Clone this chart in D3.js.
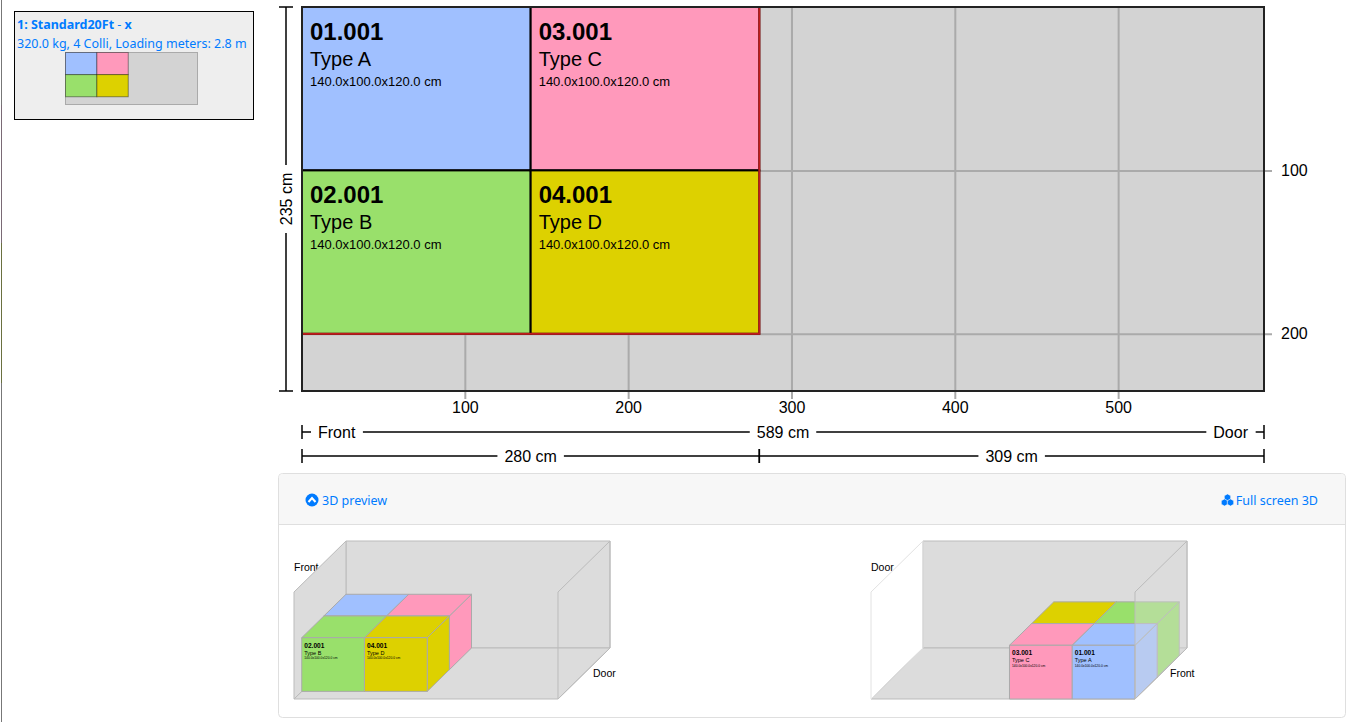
<!DOCTYPE html>
<html>
<head>
<meta charset="utf-8">
<script src="https://cdn.jsdelivr.net/npm/d3@7"></script>
<style>
  html, body { margin: 0; padding: 0; background: #fff; overflow: hidden; }
  svg { display: block; }
  text { font-family: "Liberation Sans", Arial, sans-serif; fill: #000; }
  .ui { font-family: "Noto Sans", sans-serif; fill: #007bff; font-size: 12.5px; }
  .axis .domain { display: none; }
  .axis line { stroke: #aaa; stroke-width: 2; }
  .axis text { font-size: 16px; fill: #000; font-family: "Liberation Sans", Arial, sans-serif; }
</style>
</head>
<body>
<svg id="chart" width="1367" height="722"></svg>
<script>
// values in cm
const containerLength = 589;
const containerWidth = 235;
const containerHeight = 239;
const loadedLength = 280;
const loadedWidth = 200;
const xTicks = [100, 200, 300, 400, 500];
const yTicks = [100, 200];
const boxIds = ["01.001", "02.001", "03.001", "04.001"];
const boxTypes = ["Type A", "Type B", "Type C", "Type D"];
const boxDims = ["140.0x100.0x120.0 cm", "140.0x100.0x120.0 cm", "140.0x100.0x120.0 cm", "140.0x100.0x120.0 cm"];
const boxColors = ["#a0c0ff", "#99e06b", "#ff99bb", "#ddd100"];
const boxX = [0, 0, 140, 140];
const boxY = [0, 100, 0, 100];
const boxLength = 140;
const boxWidth = 100;
const boxHeight = 120;

const boxes = boxIds.map((id, i) => ({
  id, type: boxTypes[i], dims: boxDims[i], color: boxColors[i], x: boxX[i], y: boxY[i],
}));

const svg = d3.select("#chart");
const x = d3.scaleLinear().domain([0, containerLength]).range([302, 1264]);
const y = d3.scaleLinear().domain([0, containerWidth]).range([7, 391]);

// thin line at the left edge of the page
[[0, 105, "#777"], [105, 243, "#7a6a75"], [243, 383, "#6a7040"], [383, 722, "#777"]].forEach((s) => {
  svg.append("line").attr("x1", 1.5).attr("x2", 1.5).attr("y1", s[0]).attr("y2", s[1])
    .attr("stroke", s[2]).attr("stroke-width", 1);
});

// ---- top view ----
svg.append("rect")
  .attr("x", x(0)).attr("y", y(0))
  .attr("width", x(containerLength) - x(0)).attr("height", y(containerWidth) - y(0))
  .attr("fill", "#d3d3d3");

svg.append("g").attr("class", "axis")
  .attr("transform", `translate(-0.5,${y(0)})`)
  .call(d3.axisBottom(x).tickValues(xTicks).tickSize(392).tickPadding(3));

svg.append("g").attr("class", "axis")
  .attr("transform", `translate(${x(0)},0)`)
  .call(d3.axisRight(y).tickValues(yTicks).tickSize(970).tickPadding(9));

const boxG = svg.append("g").selectAll("g").data(boxes).join("g")
  .attr("transform", (d) => `translate(${x(d.x)},${y(d.y)})`);

boxG.append("rect")
  .attr("width", x(boxLength) - x(0)).attr("height", y(boxWidth) - y(0))
  .attr("fill", (d) => d.color).attr("stroke", "#000").attr("stroke-width", 2);
boxG.append("text").attr("x", 8).attr("y", 33)
  .attr("font-size", 24).attr("font-weight", "bold").text((d) => d.id);
boxG.append("text").attr("x", 8).attr("y", 59)
  .attr("font-size", 20).text((d) => d.type);
boxG.append("text").attr("x", 8).attr("y", 79)
  .attr("font-size", 13).text((d) => d.dims);

svg.append("rect")
  .attr("x", x(0)).attr("y", y(0))
  .attr("width", x(loadedLength) - x(0)).attr("height", y(loadedWidth) - y(0))
  .attr("fill", "none").attr("stroke", "#c01c1c").attr("stroke-width", 2);

svg.append("rect")
  .attr("x", x(0)).attr("y", y(0))
  .attr("width", x(containerLength) - x(0)).attr("height", y(containerWidth) - y(0))
  .attr("fill", "none").attr("stroke", "#222").attr("stroke-width", 2);

// ---- dimension lines ----
const dimStroke = 1.5;

function hLabelLine(yPos, from, to, labels) {
  const g = svg.append("g");
  [from, to].forEach((v) => {
    g.append("line").attr("x1", v).attr("x2", v).attr("y1", yPos - 7).attr("y2", yPos + 7)
      .attr("stroke", "#000").attr("stroke-width", dimStroke);
  });
  let cursor = from;
  labels.forEach((l) => {
    const t = g.append("text").attr("x", l.x).attr("y", yPos + 6)
      .attr("font-size", 16).attr("text-anchor", l.anchor || "middle").text(l.text);
    const b = t.node().getBBox();
    g.append("line").attr("x1", cursor).attr("x2", b.x - 7).attr("y1", yPos).attr("y2", yPos)
      .attr("stroke", "#000").attr("stroke-width", dimStroke);
    cursor = b.x + b.width + 7;
  });
  g.append("line").attr("x1", cursor).attr("x2", to).attr("y1", yPos).attr("y2", yPos)
    .attr("stroke", "#000").attr("stroke-width", dimStroke);
}

hLabelLine(432, x(0), x(containerLength), [
  { text: "Front", x: x(0) + 16, anchor: "start" },
  { text: containerLength + " cm", x: x(containerLength / 2) },
  { text: "Door", x: x(containerLength) - 16, anchor: "end" },
]);
hLabelLine(456, x(0), x(loadedLength), [{ text: loadedLength + " cm", x: x(loadedLength / 2) }]);
hLabelLine(456, x(loadedLength), x(containerLength), [
  { text: (containerLength - loadedLength) + " cm", x: x((loadedLength + containerLength) / 2) },
]);

// vertical one
const vx = 286;
const vg = svg.append("g");
[y(0), y(containerWidth)].forEach((v) => {
  vg.append("line").attr("x1", vx - 7).attr("x2", vx + 7).attr("y1", v).attr("y2", v)
    .attr("stroke", "#000").attr("stroke-width", dimStroke);
});
const vMid = y(containerWidth / 2);
vg.append("text").attr("transform", `translate(${vx + 6},${vMid}) rotate(-90)`)
  .attr("font-size", 16).attr("text-anchor", "middle").text(containerWidth + " cm");
vg.append("line").attr("x1", vx).attr("x2", vx).attr("y1", y(0)).attr("y2", vMid - 34)
  .attr("stroke", "#000").attr("stroke-width", dimStroke);
vg.append("line").attr("x1", vx).attr("x2", vx).attr("y1", vMid + 34).attr("y2", y(containerWidth))
  .attr("stroke", "#000").attr("stroke-width", dimStroke);

// ---- mini card ----
svg.append("rect").attr("x", 14.5).attr("y", 11.5).attr("width", 239).attr("height", 108)
  .attr("fill", "#eee").attr("stroke", "#000").attr("stroke-width", 1);
const title = svg.append("text").attr("class", "ui").attr("x", 17).attr("y", 29);
title.append("tspan").attr("font-weight", "bold").text("1: Standard20Ft");
title.append("tspan").text(" - ");
title.append("tspan").attr("font-weight", "bold").text("x");
svg.append("text").attr("class", "ui").attr("x", 17).attr("y", 48)
  .text("320.0 kg, 4 Colli, Loading meters: 2.8 m");

const miniX = d3.scaleLinear().domain([0, containerLength]).range([65.5, 197.5]);
const miniY = d3.scaleLinear().domain([0, containerWidth]).range([52.5, 104.5]);
svg.append("rect")
  .attr("x", miniX(0)).attr("y", miniY(0))
  .attr("width", miniX(containerLength) - miniX(0)).attr("height", miniY(containerWidth) - miniY(0))
  .attr("fill", "#d3d3d3").attr("stroke", "#aaa").attr("stroke-width", 1);
svg.append("g").selectAll("rect").data(boxes).join("rect")
  .attr("x", (d) => miniX(d.x)).attr("y", (d) => miniY(d.y))
  .attr("width", miniX(boxLength) - miniX(0)).attr("height", miniY(boxWidth) - miniY(0))
  .attr("fill", (d) => d.color).attr("stroke", "#000").attr("stroke-opacity", 0.4);

// ---- 3D preview panel ----
svg.append("rect").attr("x", 278.5).attr("y", 473.5).attr("width", 1067).attr("height", 244).attr("rx", 4)
  .attr("fill", "#fff").attr("stroke", "#dfdfdf");
svg.append("path").attr("d", "M279,524V478a4,4 0 0 1 4,-4H1341a4,4 0 0 1 4,4V524Z").attr("fill", "#f7f7f7");
svg.append("line").attr("x1", 279).attr("x2", 1345).attr("y1", 524.5).attr("y2", 524.5).attr("stroke", "#dfdfdf");

svg.append("circle").attr("cx", 312).attr("cy", 500).attr("r", 6.5).attr("fill", "#007bff");
svg.append("path").attr("d", "M308.5,502L312,498L315.5,502").attr("fill", "none")
  .attr("stroke", "#fff").attr("stroke-width", 2);
svg.append("text").attr("class", "ui").attr("x", 322).attr("y", 505).text("3D preview");

const cubes = svg.append("g").attr("fill", "#007bff").attr("stroke", "#f7f7f7").attr("stroke-width", 0.6);
[[1227.5, 497.5], [1224.5, 502.5], [1230.5, 502.5]].forEach((c) => {
  cubes.append("path").attr("d",
    `M${c[0] - 3.2},${c[1] - 1.8}L${c[0]},${c[1] - 3.6}L${c[0] + 3.2},${c[1] - 1.8}V${c[1] + 1.8}L${c[0]},${c[1] + 3.6}L${c[0] - 3.2},${c[1] + 1.8}Z`);
});
svg.append("text").attr("class", "ui").attr("x", 1318).attr("y", 505).attr("text-anchor", "end").text("Full screen 3D");

// one projected view: originX is the low-left corner on the floor, near side
function drawView(originX, mirrored, farLabel, nearLabel) {
  const g = svg.append("g");
  const sx = d3.scaleLinear().domain([0, containerLength]).range([originX, originX + 264]);
  const sd = d3.scaleLinear().domain([0, containerWidth]).range([0, 52]);
  const sdy = d3.scaleLinear().domain([0, containerWidth]).range([0, 51]);
  const sh = d3.scaleLinear().domain([0, containerHeight]).range([699, 592]);

  const pt = (px, pz, ph) => [sx(px) + sd(pz), sh(ph) - sdy(pz)];
  const poly = (pts) => pts.map((p) => p.join(",")).join(" ");
  const L = containerLength, W = containerWidth, H = containerHeight;
  const wallLine = "#bbb";

  // labels sit under the walls
  g.append("text").attr("x", originX).attr("y", 571).attr("font-size", 10.5).text(farLabel);
  g.append("text").attr("x", originX + 299).attr("y", 677).attr("font-size", 10.5).text(nearLabel);

  // back wall and floor
  g.append("polygon").attr("points", poly([pt(0, W, 0), pt(L, W, 0), pt(L, W, H), pt(0, W, H)]))
    .attr("fill", "#dcdcdc").attr("stroke", wallLine);
  g.append("polygon").attr("points", poly([pt(0, 0, 0), pt(L, 0, 0), pt(L, W, 0), pt(0, W, 0)]))
    .attr("fill", "#dcdcdc").attr("stroke", wallLine);

  const frontWall = (px, opacity) => g.append("polygon")
    .attr("points", poly([pt(px, 0, 0), pt(px, W, 0), pt(px, W, H), pt(px, 0, H)]))
    .attr("fill", "#dcdcdc").attr("fill-opacity", opacity).attr("stroke", wallLine);
  const doorWall = (px) => g.append("polygon")
    .attr("points", poly([pt(px, 0, 0), pt(px, W, 0), pt(px, W, H), pt(px, 0, H)]))
    .attr("fill", "none").attr("stroke", mirrored ? "#e2e2e2" : wallLine);

  if (mirrored) doorWall(0);
  else frontWall(0, 1);

  // boxes, far ones first
  const placed = boxes.map((d) => ({
    ...d,
    px: mirrored ? L - d.x - boxLength : d.x,
    pz: mirrored ? d.y : containerWidth - d.y - boxWidth,
  })).sort((a, b) => b.pz - a.pz || a.px - b.px);

  placed.forEach((d) => {
    const x0 = d.px, x1 = d.px + boxLength, z0 = d.pz, z1 = d.pz + boxWidth, h = boxHeight;
    const b = g.append("g").attr("fill", d.color).attr("stroke", "#aaa");
    b.append("polygon").attr("points", poly([pt(x1, z0, 0), pt(x1, z1, 0), pt(x1, z1, h), pt(x1, z0, h)]));
    b.append("polygon").attr("points", poly([pt(x0, z0, h), pt(x1, z0, h), pt(x1, z1, h), pt(x0, z1, h)]));
    b.append("polygon").attr("points", poly([pt(x0, z0, 0), pt(x1, z0, 0), pt(x1, z0, h), pt(x0, z0, h)]));
    const c = pt(x0, z0, h);
    g.append("text").attr("x", c[0] + 2.5).attr("y", c[1] + 10).attr("font-size", 6.6).attr("font-weight", "bold").text(d.id);
    g.append("text").attr("x", c[0] + 2.5).attr("y", c[1] + 17).attr("font-size", 5.5).text(d.type);
    g.append("text").attr("x", c[0] + 2.5).attr("y", c[1] + 21.5).attr("font-size", 3.3).text(d.dims);
  });

  if (mirrored) frontWall(L, 0.4);
  else doorWall(L);
}

drawView(294, false, "Front", "Door");
drawView(871, true, "Door", "Front");
</script>
</body>
</html>
